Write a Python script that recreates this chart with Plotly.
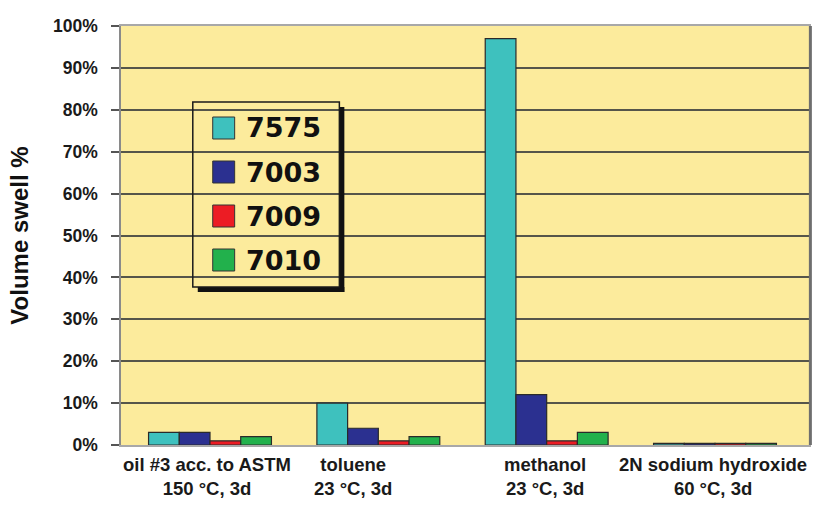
import plotly.graph_objects as go

# Test media and exposure conditions (two-line category labels)
media = ["oil #3 acc. to ASTM", "toluene", "methanol", "2N sodium hydroxide"]
conditions = ["150 °C, 3d", "23 °C, 3d", "23 °C, 3d", "60 °C, 3d"]

# Volume swell in percent for each compound
compounds = ["7575", "7003", "7009", "7010"]
swell_7575 = [3, 10, 97, 0.4]
swell_7003 = [3, 4, 12, 0.4]
swell_7009 = [1, 1, 1, 0.4]
swell_7010 = [2, 2, 3, 0.4]

y_ticks = [0, 10, 20, 30, 40, 50, 60, 70, 80, 90, 100]

colors = ["#3EC1BE", "#2B3090", "#EC1C24", "#22B14C"]
series = [swell_7575, swell_7003, swell_7009, swell_7010]

BG = "#FCEB9C"
FONT = "Liberation Sans, Arial, sans-serif"
LEG_FONT = "DejaVu Sans, sans-serif"

# plot-area geometry in pixels (used for the legend panel and label offsets)
W, H = 819, 516
ML, MR, MT, MB = 121, 8, 26, 71
PW, PH = W - ML - MR, H - MT - MB


def px_x(px):
    return (px - ML) / PW


def px_y(py):
    return (H - MB - py) / PH


fig = go.Figure()
for name, vals, col in zip(compounds, series, colors):
    fig.add_trace(go.Bar(
        x=media, y=vals, name=name,
        marker=dict(color=col, line=dict(color="#2A2A2A", width=1.2)),
        showlegend=False,
    ))

# category labels below the axis
label_shift = [-3, -25, -2, -2]
annotations = []
for m, c, dx in zip(media, conditions, label_shift):
    annotations.append(dict(
        x=m, xref="x", y=0, yref="paper", yanchor="top", yshift=-7,
        xshift=dx, text=f"{m}<br>{c}", showarrow=False, align="center",
        font=dict(family=FONT, size=18.5, color="#1A1A1A", weight="bold"),
    ))

# legend panel with drop shadow
shapes = []
box_l, box_r, box_t, box_b = 193, 340, 102, 287
sh = 5
shapes.append(dict(type="rect", xref="paper", yref="paper",
                   x0=px_x(box_r), x1=px_x(box_r + sh),
                   y0=px_y(box_b + sh), y1=px_y(box_t + sh),
                   fillcolor="#111111", line=dict(width=0), layer="above"))
shapes.append(dict(type="rect", xref="paper", yref="paper",
                   x0=px_x(box_l + sh), x1=px_x(box_r + sh),
                   y0=px_y(box_b + sh), y1=px_y(box_b),
                   fillcolor="#111111", line=dict(width=0), layer="above"))
shapes.append(dict(type="rect", xref="paper", yref="paper",
                   x0=px_x(box_l), x1=px_x(box_r),
                   y0=px_y(box_b), y1=px_y(box_t),
                   line=dict(color="#1A1A1A", width=1.5), layer="above"))

row_y = [128, 172, 216, 260]
sq = 22
for name, col, ry in zip(compounds, colors, row_y):
    shapes.append(dict(type="rect", xref="paper", yref="paper",
                       x0=px_x(213), x1=px_x(213 + sq),
                       y0=px_y(ry + sq / 2), y1=px_y(ry - sq / 2),
                       fillcolor=col, line=dict(color="#333333", width=1),
                       layer="above"))
    annotations.append(dict(
        x=px_x(244), y=px_y(ry), xref="paper", yref="paper",
        xanchor="left", yanchor="middle", text=name, showarrow=False,
        font=dict(family=LEG_FONT, size=27, color="#111111", weight="bold"),
    ))

# darker right edge of the plot frame
shapes.append(dict(type="line", xref="paper", yref="paper",
                   x0=1.002, x1=1.002, y0=0, y1=1,
                   line=dict(color="#6E6E6E", width=3), layer="above"))

fig.update_layout(
    width=W, height=H,
    margin=dict(l=ML, r=MR, t=MT, b=MB, pad=0),
    paper_bgcolor="white",
    plot_bgcolor=BG,
    barmode="group",
    bargap=0.27,
    bargroupgap=0,
    shapes=shapes,
    annotations=annotations,
    xaxis=dict(
        showticklabels=False, ticks="", showgrid=False,
        showline=True, linecolor="#A8A8A8", linewidth=1.5, mirror=True,
    ),
    yaxis=dict(
        range=[0, 100], tickvals=y_ticks,
        ticktext=[f"{v}%" for v in y_ticks],
        ticks="outside", ticklen=8, tickcolor="#555555", tickwidth=1.5,
        ticklabelstandoff=10,
        tickfont=dict(family=FONT, size=17.5, color="#1A1A1A", weight="bold"),
        showgrid=True, gridcolor="#55554A", gridwidth=1.5,
        showline=True, linecolor="#8A8A8A", linewidth=1.5, mirror=True,
        zeroline=False,
        title=dict(text="Volume swell %", standoff=18,
                   font=dict(family=FONT, size=24, color="#111111", weight="bold")),
    ),
)

fig.write_html("out.html")
